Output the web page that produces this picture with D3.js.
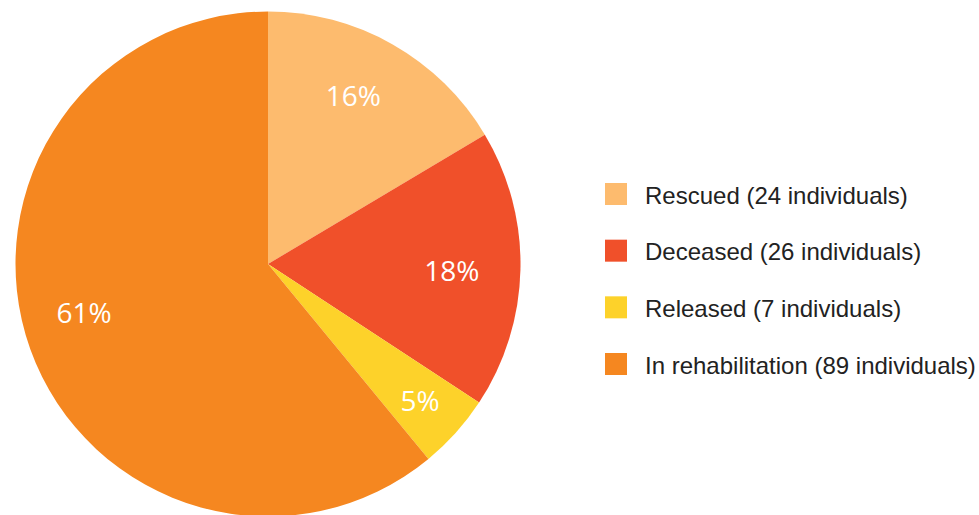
<!DOCTYPE html>
<html>
<head>
<meta charset="utf-8">
<script src="https://cdn.jsdelivr.net/npm/d3@7"></script>
<style>
  html, body { margin: 0; padding: 0; background: #fff; }
  svg { display: block; }
</style>
</head>
<body>
<svg id="chart" width="979" height="515"></svg>
<script>
// Status of rescued animals
const categories = ["Rescued", "Deceased", "Released", "In rehabilitation"];
const counts = [24, 26, 7, 89];
const colors = ["#fdbb6e", "#f0502a", "#fdd22a", "#f58720"];
// small hand nudges for the percentage labels (dx, dy)
const labelShift = [[-7, -7], [-3, 2], [0, -1], [-8, -15]];

const svg = d3.select("#chart");
const cx = 268, cy = 264, radius = 252.5;

const total = d3.sum(counts);
const data = categories.map((c, i) => ({ name: c, value: counts[i], color: colors[i], shift: labelShift[i] }));

const pie = d3.pie().value(d => d.value).sort(null);
const arcs = pie(data);
const arc = d3.arc().innerRadius(0).outerRadius(radius);

const g = svg.append("g").attr("transform", `translate(${cx},${cy})`);

g.selectAll("path.slice")
  .data(arcs)
  .join("path")
  .attr("class", "slice")
  .attr("d", arc)
  .attr("fill", d => d.data.color);

// Percentage labels; narrow slices get their label pushed further out
const labelArc = d3.arc().innerRadius(radius * 0.74).outerRadius(radius * 0.74);
const outerLabelArc = d3.arc().innerRadius(radius * 0.81).outerRadius(radius * 0.81);
const fmt = d3.format(".0%");

g.selectAll("text.pct")
  .data(arcs)
  .join("text")
  .attr("class", "pct")
  .attr("transform", d => {
    const share = d.data.value / total;
    const c = (share < 0.1 ? outerLabelArc : labelArc).centroid(d);
    return `translate(${c[0] + d.data.shift[0]},${c[1] + d.data.shift[1]})`;
  })
  .attr("text-anchor", "middle")
  .attr("dominant-baseline", "central")
  .attr("fill", "#ffffff")
  .style("font-family", "'Open Sans', sans-serif")
  .style("font-size", "28px")
  .text(d => fmt(d.data.value / total));

// Legend
const legendY = d3.scalePoint().domain(categories).range([194, 364]);
const legend = svg.append("g");

const item = legend.selectAll("g.item")
  .data(data)
  .join("g")
  .attr("class", "item")
  .attr("transform", d => `translate(605,${legendY(d.name)})`);

item.append("rect")
  .attr("x", 0)
  .attr("y", -11)
  .attr("width", 22)
  .attr("height", 22)
  .attr("fill", d => d.color);

item.append("text")
  .attr("x", 40)
  .attr("y", 1)
  .attr("dominant-baseline", "central")
  .attr("fill", "#222")
  .style("font-family", "'Liberation Sans', Arial, sans-serif")
  .style("font-size", "24px")
  .text(d => `${d.name} (${d.value} individuals)`);
</script>
</body>
</html>
